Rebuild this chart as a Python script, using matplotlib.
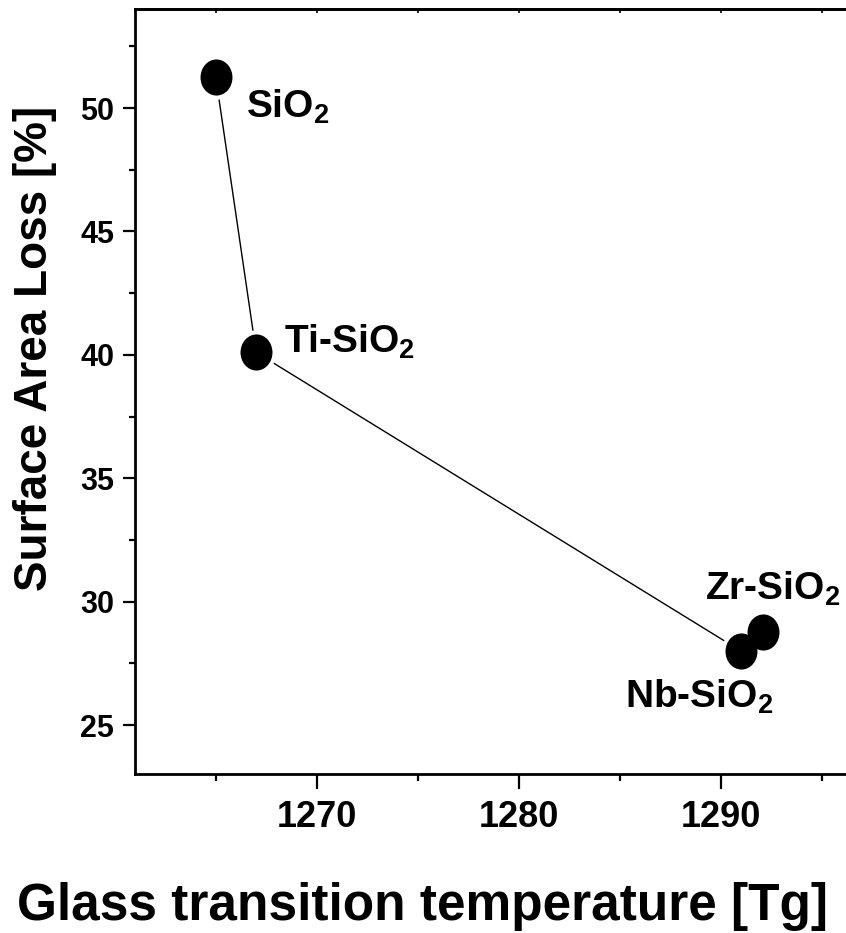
import matplotlib

matplotlib.use("Agg")
import matplotlib.pyplot as plt
from matplotlib.path import Path
from matplotlib.transforms import Affine2D
from matplotlib.ticker import MultipleLocator

plt.rcParams["font.family"] = ["Liberation Sans", "DejaVu Sans"]
plt.rcParams["font.weight"] = "bold"
plt.rcParams["mathtext.fontset"] = "custom"
plt.rcParams["mathtext.rm"] = "Liberation Sans:bold"
plt.rcParams["mathtext.it"] = "Liberation Sans:bold"
plt.rcParams["mathtext.bf"] = "Liberation Sans:bold"

# data
names = ["SiO$_\\mathrm{2}$", "Ti-SiO$_\\mathrm{2}$", "Nb-SiO$_\\mathrm{2}$", "Zr-SiO$_\\mathrm{2}$"]
tg = [1265.0, 1267.0, 1291.0, 1292.1]
loss = [51.25, 40.1, 28.0, 28.75]
connected = [True, True, True, False]
# label offsets in pixels (left edge, baseline) relative to the point
label_off = [(30, -41), (28, 0), (-116, -57), (-58, 33)]

x_ticks = [1270, 1280, 1290]
y_ticks = [25, 30, 35, 40, 45, 50]

W, H = 846, 933
fig = plt.figure(figsize=(W / 100, H / 100), dpi=100)
ax = fig.add_axes([135 / W, (H - 774.4) / H, 727 / W, (774.4 - 9.3) / H])

# slightly tall ellipse marker, like the original
oval = Path.unit_circle().transformed(Affine2D().scale(1.0, 1.13))

cx = [x for x, c in zip(tg, connected) if c]
cy = [y for y, c in zip(loss, connected) if c]
ax.plot(cx, cy, "-", color="black", lw=1.0, zorder=2)
# white halo so the line stops short of each marker
ax.plot(cx, cy, ls="none", marker=oval, ms=32, mfc="white", mec="none", zorder=3)
ax.plot(tg, loss, ls="none", marker=oval, ms=26, mfc="black", mec="none", zorder=4)

for n, x, y, (dx, dy) in zip(names, tg, loss, label_off):
    ax.annotate(n, (x, y), xytext=(dx, dy), textcoords="offset pixels",
                ha="left", va="baseline", fontsize=28, fontweight="bold")

ax.set_xlim(1261, 1297)
ax.set_ylim(23, 54)
ax.set_xticks(x_ticks)
ax.set_yticks(y_ticks)
ax.xaxis.set_minor_locator(MultipleLocator(5))
ax.yaxis.set_minor_locator(MultipleLocator(2.5))

for s in ax.spines.values():
    s.set_linewidth(2)
ax.spines["right"].set_visible(False)

ax.tick_params(axis="x", which="major", direction="out", length=10.5, width=1.6,
               labelsize=26, pad=8)
ax.tick_params(axis="x", which="minor", direction="out", length=5, width=1.6)
ax.tick_params(axis="y", which="major", direction="out", length=9, width=1.6,
               labelsize=22, pad=6)
ax.tick_params(axis="y", which="minor", direction="out", length=4.5, width=1.6)
for lab in ax.get_xticklabels() + ax.get_yticklabels():
    lab.set_fontweight("bold")

top = ax.secondary_xaxis("top")
top.set_xticks(x_ticks)
top.xaxis.set_minor_locator(MultipleLocator(5))
top.tick_params(which="both", direction="in", length=3, width=1.2, labeltop=False)
top.spines["top"].set_linewidth(2)

fig.text(35 / W, 1 - 348 / H, "Surface Area Loss [%]", rotation=90, ha="center",
         va="center", fontsize=33, fontweight="bold")
fig.text(422 / W, 1 - 920 / H, "Glass transition temperature [Tg]", ha="center",
         va="baseline", fontsize=37, fontweight="bold")

fig.savefig("out.png", dpi=100)
